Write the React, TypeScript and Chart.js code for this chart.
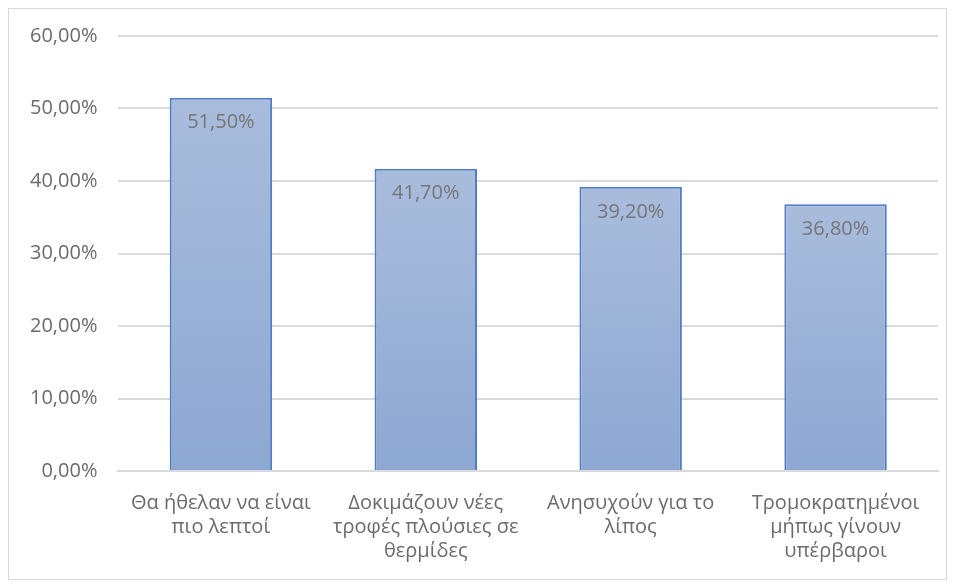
import React, { useEffect, useRef } from "react";
import { Chart, registerables } from "chart.js";

Chart.register(...registerables);

const categories: string[][] = [
  ["Θα ήθελαν να είναι", "πιο λεπτοί"],
  ["Δοκιμάζουν νέες", "τροφές πλούσιες σε", "θερμίδες"],
  ["Ανησυχούν για το", "λίπος"],
  ["Τρομοκρατημένοι", "μήπως γίνουν", "υπέρβαροι"],
];
const values: number[] = [51.5, 41.7, 39.2, 36.8];
const yMax = 60;
const yStep = 10;

const FONT = "'Open Sans', 'Noto Sans', sans-serif";
const fmt = (v: number) => v.toFixed(2).replace(".", ",") + "%";

const labelPlugin = {
  id: "innerLabels",
  afterDatasetsDraw(chart: any) {
    const ctx = chart.ctx;
    const meta = chart.getDatasetMeta(0);
    ctx.save();
    ctx.font = `20px ${FONT}`;
    ctx.fillStyle = "#767676";
    ctx.textAlign = "center";
    ctx.textBaseline = "middle";
    meta.data.forEach((el: any, i: number) => {
      ctx.fillText(fmt(values[i]), el.x, el.y + 25);
    });
    ctx.restore();
  },
};

export default function App() {
  const ref = useRef<HTMLCanvasElement>(null);
  useEffect(() => {
    if (!ref.current) return;
    const chart = new Chart(ref.current, {
      type: "bar",
      data: {
        labels: categories,
        datasets: [
          {
            data: values,
            backgroundColor: (c: any) => {
              const ch = c.chart;
              const area = ch.chartArea;
              if (!area || c.dataIndex === undefined) return "#9FB4D9";
              const top = ch.scales.y.getPixelForValue(values[c.dataIndex]);
              const g = ch.ctx.createLinearGradient(0, top, 0, area.bottom);
              g.addColorStop(0, "#A9BCDC");
              g.addColorStop(1, "#8DA8D3");
              return g;
            },
            borderColor: "#4F7EC4",
            borderWidth: 2,
            borderSkipped: "bottom",
            barPercentage: 0.5,
            categoryPercentage: 1,
          },
        ],
      },
      options: {
        animation: false,
        responsive: true,
        maintainAspectRatio: false,
        layout: { padding: { left: 0, right: 8, top: 27, bottom: 4 } },
        plugins: { legend: { display: false }, tooltip: { enabled: false } },
        scales: {
          x: {
            grid: { display: false },
            border: { color: "#D9D9D9", width: 2 },
            ticks: {
              color: "#6B6B6B",
              font: { family: FONT, size: 20, lineHeight: 1.2 },
              padding: 12,
              maxRotation: 0,
              autoSkip: false,
            },
          },
          y: {
            min: 0,
            max: yMax,
            grid: { color: "#D9D9D9", lineWidth: 2, drawTicks: false },
            border: { display: false },
            ticks: {
              stepSize: yStep,
              color: "#6B6B6B",
              font: { family: FONT, size: 20, lineHeight: 0.5 },
              padding: 21,
              callback: (v: any) => fmt(Number(v)),
            },
          },
        },
      },
      plugins: [labelPlugin],
    });
    return () => chart.destroy();
  }, []);
  return (
    <div
      style={{
        width: 939,
        height: 572,
        boxSizing: "border-box",
        border: "1px solid #D9D9D9",
        background: "#fff",
        position: "relative",
      }}
    >
      <canvas ref={ref} />
    </div>
  );
}
